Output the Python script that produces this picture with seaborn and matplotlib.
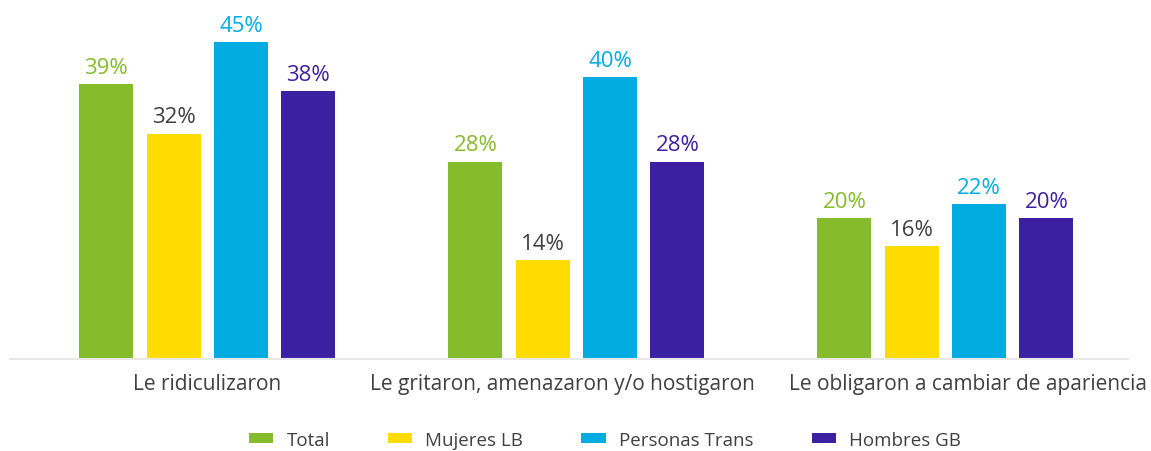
import pandas as pd
import numpy as np
import matplotlib.pyplot as plt
import matplotlib.transforms as mtransforms
import seaborn as sns
from matplotlib.patches import Patch

categories = [
    "Le ridiculizaron",
    "Le gritaron, amenazaron y/o hostigaron",
    "Le obligaron a cambiar de apariencia",
]
groups = ["Total", "Mujeres LB", "Personas Trans", "Hombres GB"]
total = [39, 28, 20]
mujeres_lb = [32, 14, 16]
personas_trans = [45, 40, 22]
hombres_gb = [38, 28, 20]

colors = ["#86bb2b", "#fedc00", "#00ace2", "#3b21a1"]
label_colors = ["#86bb2b", "#404040", "#00ace2", "#3b21a1"]

df = pd.DataFrame({
    "categoria": categories * 4,
    "grupo": np.repeat(groups, 3),
    "valor": total + mujeres_lb + personas_trans + hombres_gb,
})

sns.set_style("white")
plt.rcParams["font.family"] = ["Open Sans", "DejaVu Sans"]

fig = plt.figure(figsize=(11.51, 4.52), dpi=100)
ax = fig.add_axes([0.0087, 0.2035, 0.9713, 0.7965])

sns.barplot(
    data=df,
    x="categoria",
    y="valor",
    hue="grupo",
    hue_order=groups,
    order=categories,
    palette=colors,
    width=0.73,
    gap=0.2,
    saturation=1,
    linewidth=0,
    legend=False,
    ax=ax,
)

for cont, c in zip(ax.containers, label_colors):
    ax.bar_label(cont, labels=[f"{v:.0f}%" for v in cont.datavalues],
                 padding=4.5, fontsize=16, color=c)

ax.set_xlim(-0.535, 2.495)
ax.set_ylim(0, 51.1)
ax.set_yticks([])
ax.set_xlabel("")
ax.set_ylabel("")
for s in ["top", "right", "left"]:
    ax.spines[s].set_visible(False)
ax.spines["bottom"].set_color("#e8e8e8")
ax.spines["bottom"].set_linewidth(1.5)
ax.tick_params(axis="x", length=0, labelsize=15, labelcolor="#404040", pad=10)

# shift the long labels apart so they don't collide
shifts = [0, -14, 23]
for lab, dx in zip(ax.get_xticklabels(), shifts):
    lab.set_transform(lab.get_transform() +
                      mtransforms.ScaledTranslation(dx / 100, 0, fig.dpi_scale_trans))

handles = [Patch(facecolor=c, edgecolor="none") for c in colors]
fig.legend(handles, groups, loc="center", bbox_to_anchor=(0.5256, 0.025),
           ncol=4, frameon=False, fontsize=13.5, labelcolor="#404040",
           handlelength=1.3, handleheight=0.42, handletextpad=0.7,
           columnspacing=3.1)

plt.savefig("out.png", dpi=100)
